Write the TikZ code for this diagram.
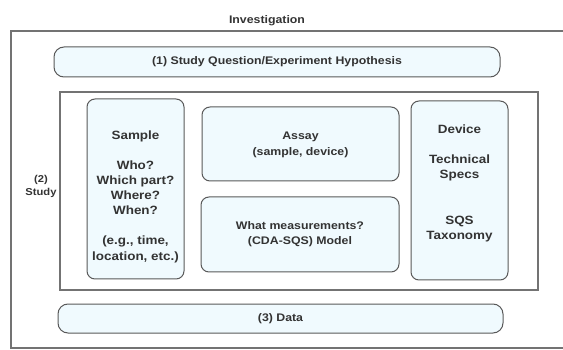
\documentclass[tikz,border=0pt]{standalone}
\usepackage{fontspec}
\setmainfont[FakeStretch=1.12]{Liberation Sans}
\begin{document}
\begin{tikzpicture}[x=1pt,y=-1pt,
  every node/.style={font=\fontsize{11}{15}\selectfont\bfseries, text=black!80},
  frame/.style={draw=black!55, line width=1.3pt},
  bluebox/.style={draw=black!65, line width=1pt, fill=cyan!6!white, rounded corners=8pt, inner sep=0pt},
  txt/.style={align=center, inner sep=0pt},
  bigtxt/.style={txt, font=\fontsize{12}{15}\selectfont\bfseries}]
\useasboundingbox (0,0) rectangle (563,350);
\draw[frame] (600,31) -- (11,31) -- (11,348) -- (600,348);
\node[txt] (inv) at (267,21) {Investigation};
\node[bluebox, rounded corners=10pt, minimum width=446pt, minimum height=30pt] (q) at (277,62) {(1) Study Question/Experiment Hypothesis};
\node[frame, draw, minimum width=478pt, minimum height=198pt, inner sep=0pt] (study) at (299,191) {};
\node[txt, font=\fontsize{10}{13}\selectfont\bfseries] (studylbl) at (41,186.5) {(2)\\Study};
\node[bluebox, minimum width=97pt, minimum height=180pt] (sample) at (135.5,189) {};
\node[bigtxt] (sampletxt) at (135.5,196.5) {Sample\\[15pt]Who?\\Which part?\\Where?\\When?\\[15pt](e.g., time,\\[1pt]location, etc.)};
\node[bluebox, minimum width=197pt, minimum height=74pt] (assay) at (300.5,144) {};
\node[txt, font=\fontsize{11}{16}\selectfont\bfseries] (assaytxt) at (300.5,145) {Assay\\(sample, device)};
\node[bluebox, minimum width=198pt, minimum height=75pt] (meas) at (300,234.5) {};
\node[txt] (meastxt) at (300,234.5) {What measurements?\\(CDA-SQS) Model};
\node[bluebox, minimum width=97pt, minimum height=179pt] (device) at (459.5,190.5) {};
\node[bigtxt] (devicetxt) at (459.5,183) {Device\\[15pt]Technical\\Specs\\[31pt]SQS\\Taxonomy};
\node[bluebox, rounded corners=10pt, minimum width=445pt, minimum height=29pt] (data) at (280.5,318.5) {(3) Data};
\end{tikzpicture}
\end{document}
